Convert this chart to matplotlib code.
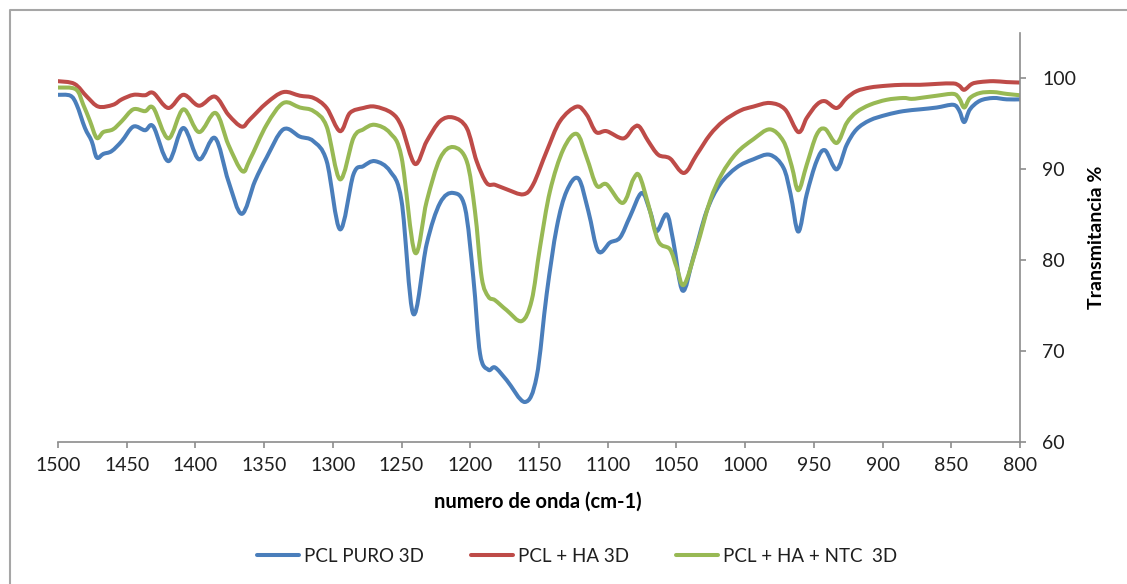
import matplotlib
matplotlib.use("Agg")
import matplotlib.pyplot as plt
import numpy as np
from matplotlib.path import Path
from matplotlib.patches import PathPatch
from matplotlib.lines import Line2D

plt.rcParams['font.family'] = ['Lato', 'DejaVu Sans']

# FTIR spectra: wavenumber (cm-1) and transmittance (%)
wn_puro = [1500, 1491, 1486.4, 1480.4, 1475.5, 1471.8, 1467, 1461, 1453.6, 1445.2,
           1436.7, 1430.6, 1419.7, 1408.8, 1397.4, 1385.8, 1376, 1366.3, 1356.7, 1348.2,
           1336, 1324, 1314.2, 1304.5, 1294.8, 1285, 1277.8, 1269.3, 1258.4, 1250,
           1241.5, 1231.7, 1222, 1212.4, 1203.9, 1197.8, 1192.9, 1186.9, 1182, 1173.5,
           1160.2, 1151.7, 1144.4, 1137.1, 1129.9, 1121.4, 1114.1, 1106.9, 1098.3, 1091,
           1083.8, 1075.3, 1069.2, 1064.4, 1057.1, 1052.3, 1045.5, 1037.7, 1028, 1018.3,
           1006.2, 994.1, 982, 972.2, 966.9, 961.3, 955.2, 948, 941.9, 933.4,
           926.1, 918.9, 909.2, 897.1, 885, 872.8, 860.6, 848.5, 844.2, 840.6,
           836.4, 829.1, 819.4, 809.7, 800]
t_puro = [98.2, 98.1, 97.1, 94.55, 93.1, 91.3, 91.7, 92.0, 93.1, 94.7,
          94.3, 94.7, 90.9, 94.55, 91.1, 93.45, 88.7, 85.1, 88.7, 91.3,
          94.4, 93.6, 93.1, 90.9, 83.4, 89.45, 90.35, 90.9, 89.8, 86.5,
          74.1, 81.8, 86.3, 87.4, 85.8, 78.1, 69.7, 67.95, 68.2, 66.8,
          64.4, 67.2, 76.3, 83.6, 87.6, 89.0, 85.4, 81.0, 81.95, 82.5,
          84.8, 87.4, 85.4, 83.2, 85.05, 82.1, 76.65, 80.3, 85.4, 88.35,
          90.2, 91.1, 91.6, 90.2, 87.25, 83.15, 87.25, 90.9, 92.1, 90.0,
          92.7, 94.4, 95.4, 96.0, 96.4, 96.6, 96.8, 97.1, 96.45, 95.2,
          96.6, 97.55, 97.85, 97.7, 97.7]

wn_ha = [1500, 1488, 1479, 1470.6, 1460, 1453.6, 1445, 1436.7, 1430.6, 1419.7,
         1408.8, 1397.4, 1385.8, 1376, 1366.3, 1360.3, 1348.2, 1336, 1324, 1314,
         1304.5, 1294.8, 1287.6, 1277.8, 1269.3, 1257.2, 1250, 1240.3, 1231.7, 1222,
         1212.4, 1202.6, 1195.4, 1188.1, 1182, 1173.5, 1161.4, 1154.2, 1144.4, 1134.7,
         1122.6, 1115.3, 1108.5, 1100.8, 1088.7, 1081.4, 1077, 1070.5, 1063.2, 1054.7,
         1044.5, 1035.3, 1025.6, 1015.9, 1003.7, 994.1, 982, 971, 961.3, 955.2,
         948, 941.9, 933.4, 926.1, 918.9, 909.2, 897.1, 885, 872.8, 860.6,
         848.5, 844.2, 840.6, 835, 829.1, 819.4, 809.7, 800]
t_ha = [99.7, 99.4, 98.0, 96.9, 97.1, 97.7, 98.2, 98.15, 98.4, 96.75,
        98.2, 97.0, 98.0, 96.0, 94.7, 95.5, 97.3, 98.5, 98.1, 97.85,
        96.75, 94.2, 96.2, 96.75, 96.9, 96.2, 94.7, 90.6, 93.1, 95.3,
        95.7, 94.55, 90.9, 88.5, 88.3, 87.8, 87.25, 88.35, 92.0, 95.3,
        96.9, 96.0, 94.1, 94.2, 93.4, 94.55, 94.7, 93.1, 91.6, 91.2,
        89.6, 91.6, 93.8, 95.3, 96.45, 96.9, 97.3, 96.6, 94.1, 95.65,
        97.1, 97.5, 96.75, 97.85, 98.6, 99.0, 99.2, 99.3, 99.3, 99.4,
        99.45, 99.2, 98.75, 99.4, 99.6, 99.7, 99.6, 99.55]

wn_ntc = [1500, 1487, 1481.6, 1476.7, 1471.8, 1467, 1460, 1453.6, 1445.2, 1436.7,
          1430.6, 1419.7, 1408.8, 1397.4, 1385.3, 1376, 1365.9, 1360.3, 1348.2, 1336,
          1324, 1314, 1304.5, 1294.8, 1285, 1277.8, 1269.5, 1258.4, 1250, 1240.3,
          1231.7, 1222, 1212.4, 1202.6, 1196.6, 1191.7, 1186.9, 1182, 1173.5, 1162.6,
          1155.3, 1149.3, 1142, 1132.3, 1122.6, 1115.3, 1108, 1100.8, 1089.1, 1081.4,
          1077, 1070.5, 1063.2, 1054.7, 1049.8, 1044.5, 1035.3, 1025.6, 1017.1, 1006.2,
          994.1, 982, 972.2, 966.1, 961.3, 955.2, 948, 941.9, 933.4, 926.1,
          918.9, 909.2, 897.1, 885, 879, 872.8, 860.6, 848.5, 844.2, 840.6,
          836.4, 829.1, 819.4, 809.7, 800]
t_ntc = [99.0, 98.8, 97.1, 95.3, 93.45, 94.1, 94.4, 95.3, 96.6, 96.4,
         96.75, 93.4, 96.6, 94.1, 96.2, 92.7, 89.8, 91.1, 94.9, 97.3,
         96.8, 96.4, 94.7, 88.9, 93.45, 94.4, 94.9, 94.0, 91.3, 80.85,
         86.5, 91.2, 92.45, 90.9, 85.4, 78.1, 76.0, 75.6, 74.5, 73.3,
         75.6, 81.4, 87.6, 92.2, 93.9, 91.3, 88.2, 88.35, 86.3, 88.9,
         89.3, 86.15, 82.1, 81.2, 79.2, 77.3, 81.4, 86.5, 89.45, 91.8,
         93.3, 94.4, 93.1, 90.35, 87.7, 90.5, 93.8, 94.45, 92.9, 95.1,
         96.3, 97.1, 97.65, 97.85, 97.75, 97.85, 98.1, 98.3, 97.8, 96.8,
         97.85, 98.4, 98.5, 98.3, 98.15]

series_names = ['PCL PURO 3D', 'PCL + HA 3D', 'PCL + HA + NTC  3D']
series_colors = ['#4A7EBB', '#BE4B48', '#98B954']
x_ticks = [1500, 1450, 1400, 1350, 1300, 1250, 1200, 1150, 1100, 1050,
           1000, 950, 900, 850, 800]
y_ticks = [60, 70, 80, 90, 100]


def smooth_path(xs, ys):
    """Smoothed line through every point (cubic Bezier, Catmull-Rom style)."""
    p = np.column_stack([xs, ys]).astype(float)
    n = len(p)
    verts = [p[0]]
    codes = [Path.MOVETO]
    for i in range(n - 1):
        p0 = p[i - 1] if i > 0 else p[i]
        p1 = p[i]
        p2 = p[i + 1]
        p3 = p[i + 2] if i + 2 < n else p[i + 1]
        c1 = p1 + (p2 - p0) / 6.0
        c2 = p2 - (p3 - p1) / 6.0
        verts += [c1, c2, p2]
        codes += [Path.CURVE4] * 3
    return Path(verts, codes)


fig = plt.figure(figsize=(11.27, 5.84), dpi=100)
ax = fig.add_axes([58 / 1127, 1 - 442 / 584, 962 / 1127, 409 / 584])

axis_gray = '#8C8C8C'
text_col = '#1F1F1F'

for xs, ys, col in zip([wn_puro, wn_ha, wn_ntc], [t_puro, t_ha, t_ntc], series_colors):
    patch = PathPatch(smooth_path(xs, ys), facecolor='none', edgecolor=col,
                      lw=2.9, capstyle='round', joinstyle='round',
                      transform=ax.transData)
    ax.add_patch(patch)

ax.set_xlim(1500, 800)
ax.set_ylim(60, 105)
ax.set_xticks(x_ticks)
ax.set_yticks(y_ticks)

ax.yaxis.tick_right()
ax.yaxis.set_label_position('right')
for side in ['top', 'left']:
    ax.spines[side].set_visible(False)
for side in ['bottom', 'right']:
    ax.spines[side].set_color(axis_gray)
    ax.spines[side].set_linewidth(1.2)

ax.tick_params(axis='x', direction='out', length=4, width=1.2, color=axis_gray,
               labelsize=14, labelcolor=text_col, pad=7)
ax.tick_params(axis='y', direction='out', length=4, width=1.2, color=axis_gray,
               labelsize=14, labelcolor=text_col, pad=12)

ax.set_xlabel('numero de onda (cm-1)', fontsize=14.5, fontweight='bold', color='black')
ax.xaxis.set_label_coords((538 - 58) / 962, (442 - 502) / 409)
ax.xaxis.label.set_va('center')
ax.set_ylabel('Transmitancia %', fontsize=14, fontweight='bold', color='black',
              rotation=90)
ax.yaxis.set_label_coords((1097 - 58) / 962, 0.5)
ax.yaxis.label.set_va('center')
ax.yaxis.label.set_ha('center')

handles = [Line2D([], [], color=c, lw=2.9, solid_capstyle='round') for c in series_colors]
fig.legend(handles, series_names, loc='center', ncol=3,
           bbox_to_anchor=(577 / 1127, 1 - 556 / 584), frameon=False,
           fontsize=13.5, handlelength=2.25, handletextpad=0.27, columnspacing=2.5,
           labelcolor=text_col)

# chart area border
fig.add_artist(Line2D([10 / 1127, 10 / 1127, 1.0], [0.0, 1 - 9.5 / 584, 1 - 9.5 / 584],
                      transform=fig.transFigure, color='#A6A6A6', lw=1.5))

fig.savefig('out.png', dpi=100)
